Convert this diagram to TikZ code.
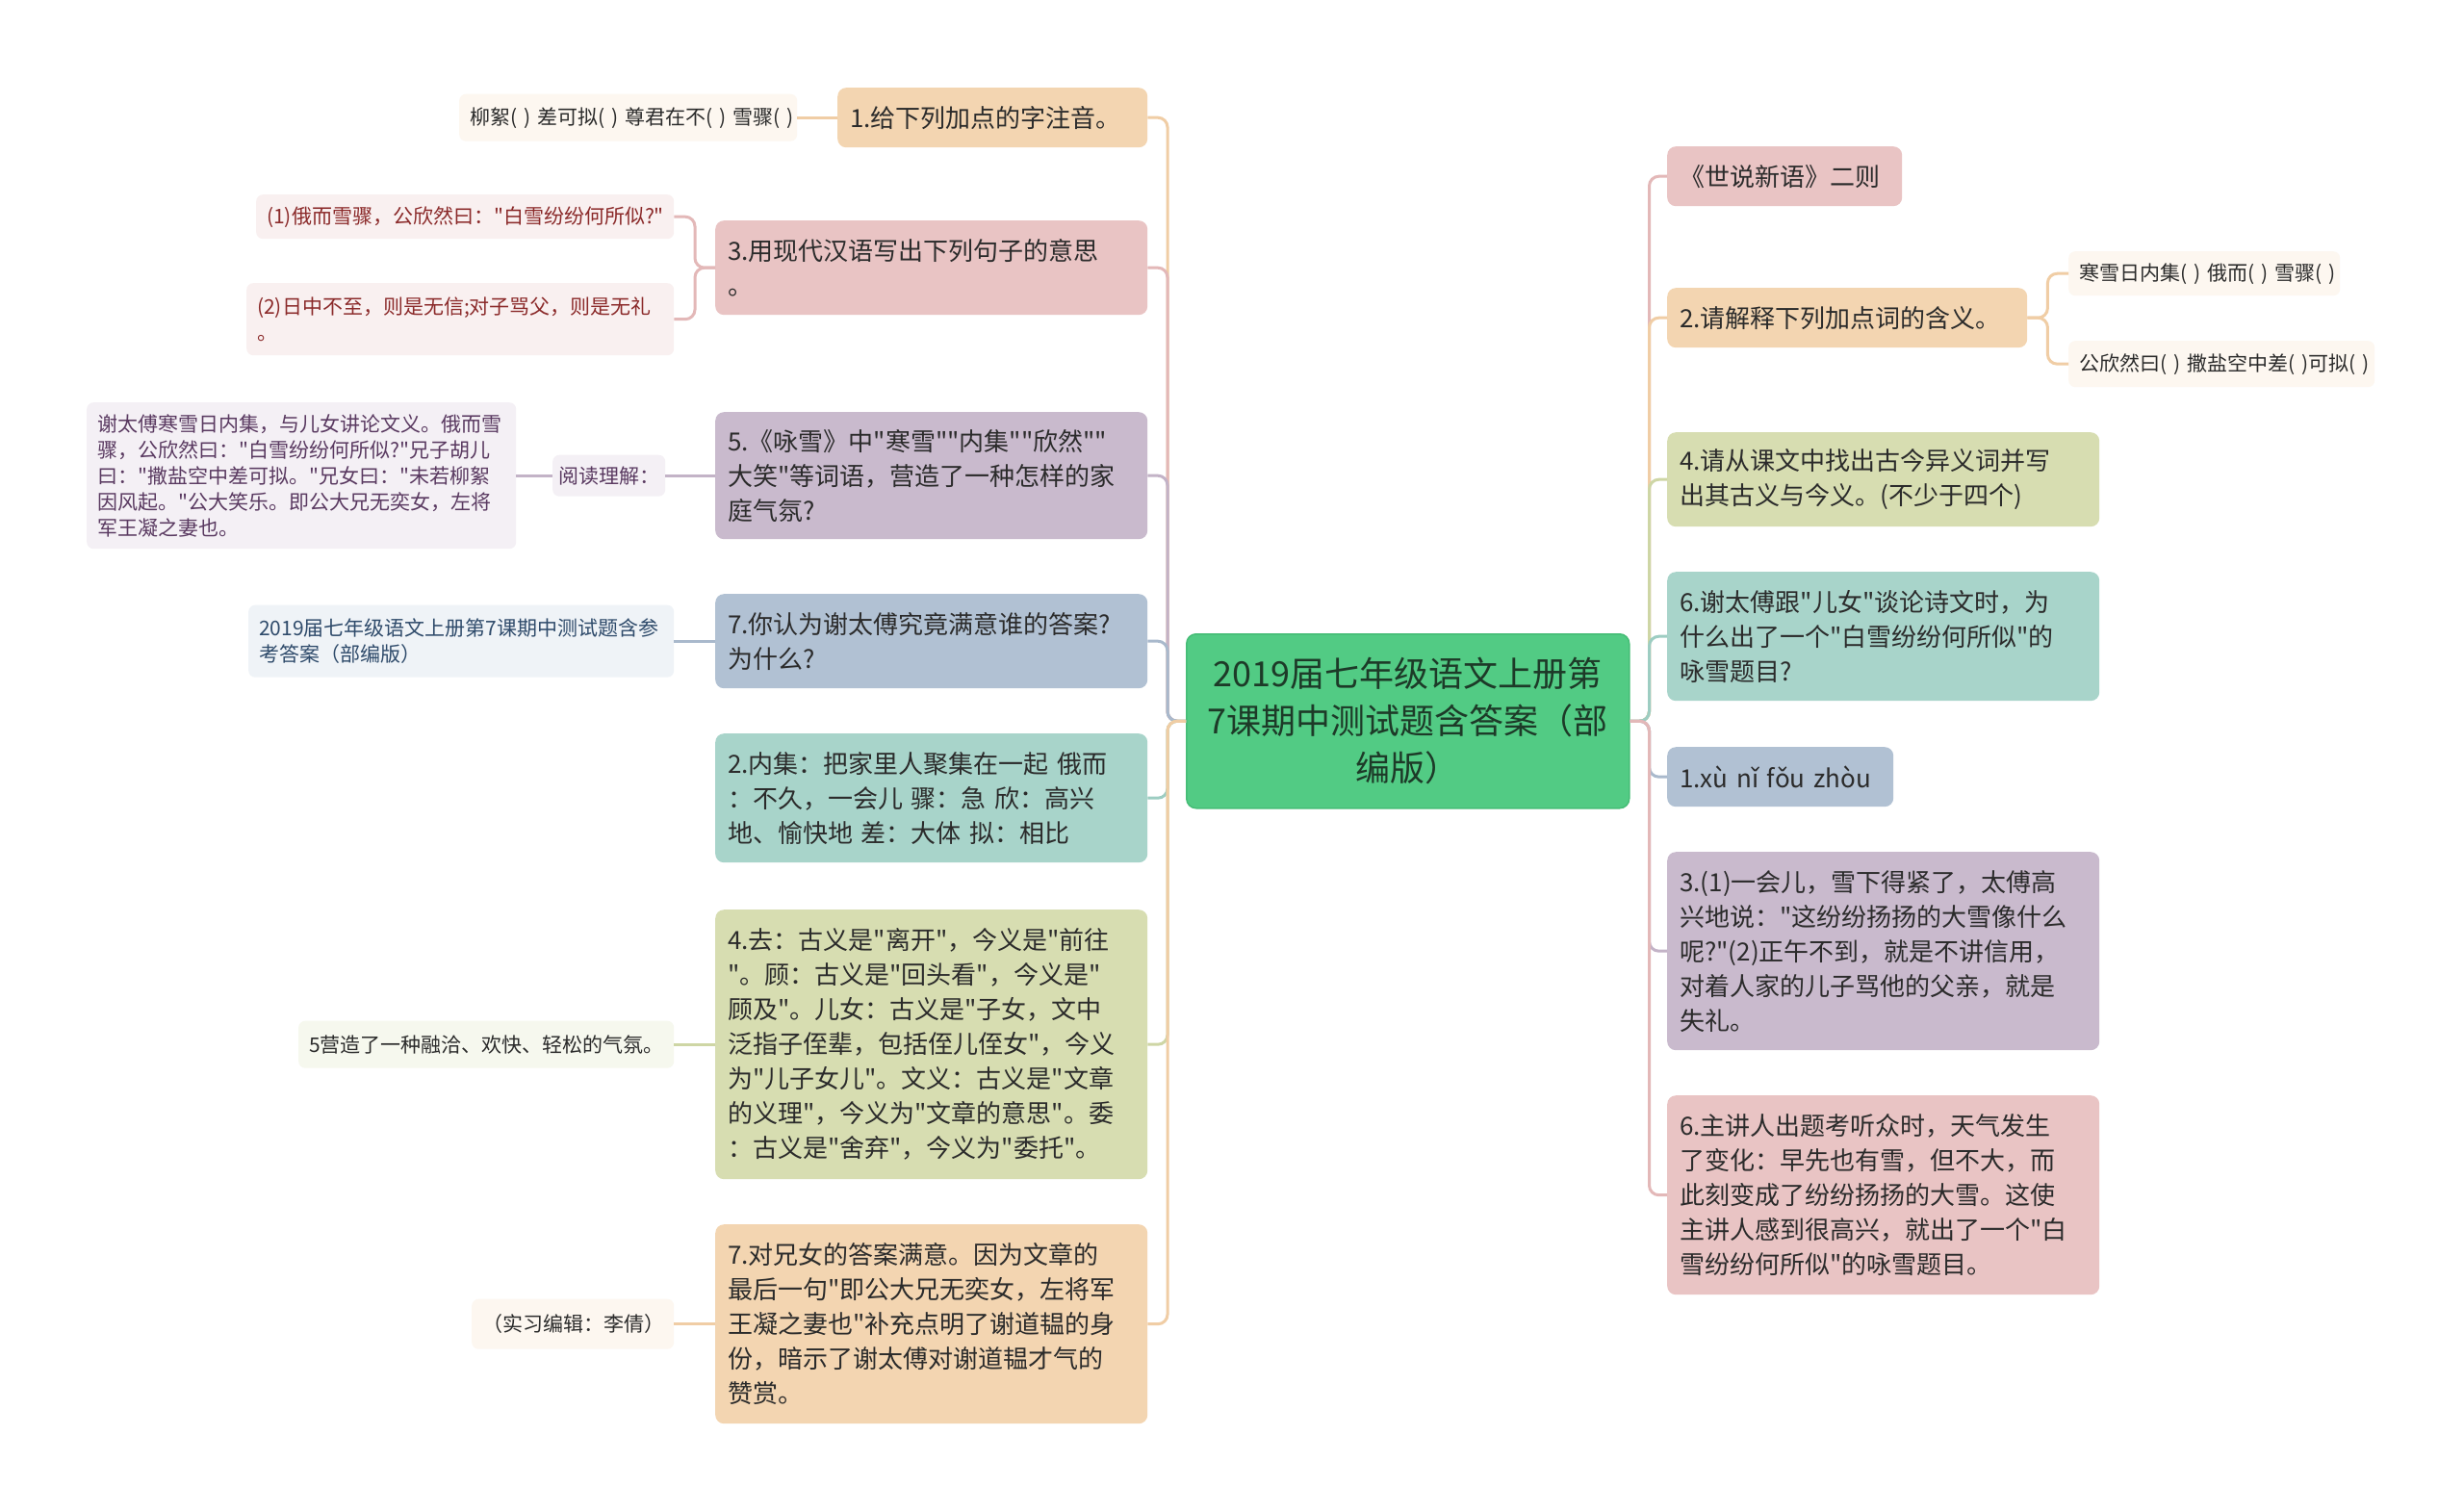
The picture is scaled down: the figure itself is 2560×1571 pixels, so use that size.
\documentclass[tikz,border=0pt]{standalone}
\usepackage{fontspec}
\setmainfont{Noto Sans CJK SC}[Ligatures=TeXOff]
\definecolor{cPeach}{HTML}{F3D5B1}
\definecolor{cPink}{HTML}{E9C4C4}
\definecolor{cLav}{HTML}{C9BACD}
\definecolor{cBlue}{HTML}{B1C1D3}
\definecolor{cTeal}{HTML}{A8D4CA}
\definecolor{cOlive}{HTML}{D7DDB1}
\definecolor{cGreen}{HTML}{52CB84}
\definecolor{cGreenLine}{HTML}{45BD76}
\definecolor{lPeach}{HTML}{F0CDA5}
\definecolor{lPink}{HTML}{E3B8B8}
\definecolor{lLav}{HTML}{C3B3C7}
\definecolor{lBlue}{HTML}{A9B9CC}
\definecolor{lTeal}{HTML}{9DCDC2}
\definecolor{lOlive}{HTML}{CED6A5}
\definecolor{fPeach}{HTML}{FDF7F0}
\definecolor{fPink}{HTML}{F9F0F0}
\definecolor{fLav}{HTML}{F4F0F5}
\definecolor{fBlue}{HTML}{EFF3F7}
\definecolor{fOlive}{HTML}{F6F8EE}
\definecolor{tRed}{HTML}{8B2A2A}
\definecolor{tLav}{HTML}{5A3A61}
\definecolor{tBlue}{HTML}{2F4B6B}
\definecolor{tDark}{HTML}{2B2B2B}
\definecolor{tCenter}{HTML}{1D3A28}
\hfuzz=50pt
\hbadness=10000
\tikzset{
  mainbox/.style={rounded corners=9pt, inner xsep=13pt, inner ysep=0pt, anchor=north west,
    align=left, font=\fontsize{26}{36}\selectfont, text=tDark},
  mb/.style n args={2}{mainbox, text width=#1, minimum height=#2},
  leafbox/.style={rounded corners=7pt, inner xsep=11pt, inner ysep=0pt, anchor=north west,
    align=left, font=\fontsize{21}{27}\selectfont, text=tDark},
  lb/.style n args={2}{leafbox, text width=#1, minimum height=#2},
  centerbox/.style={rounded corners=10pt, inner xsep=10pt, inner ysep=0pt, anchor=north west,
    align=center, font=\fontsize{36}{49}\selectfont, text=tCenter, fill=cGreen,
    draw=cGreenLine, line width=1.5pt, text width=440pt, minimum height=181pt},
  link/.style={line width=3pt, rounded corners=10pt},
}
\begin{document}
\begin{tikzpicture}[x=1pt,y=-1pt]
\fill[white] (0,0) rectangle (2560,1571);
\useasboundingbox (0,0) rectangle (2560,1571);

% center
\node[centerbox] (C) at (1232,658) {2019届七年级语文上册第\\7课期中测试题含答案（部\\编版）};

% left main nodes
\node[mb={296pt}{62pt}, fill=cPeach] (N1) at (870,91) {1.给下列加点的字注音。};
\node[mb={423pt}{98pt}, fill=cPink] (N3) at (743,229) {3.用现代汉语写出下列句子的意思\\。};
\node[mb={423pt}{132pt}, fill=cLav] (N5) at (743,428) {5.《咏雪》中"寒雪""内集""欣然""\\大笑"等词语，营造了一种怎样的家\\庭气氛?};
\node[mb={423pt}{98pt}, fill=cBlue] (N7q) at (743,617) {7.你认为谢太傅究竟满意谁的答案?\\为什么?};
\node[mb={423pt}{134pt}, fill=cTeal] (N2a) at (743,762) {2.内集：把家里人聚集在一起~俄而\\：不久，一会儿~骤：急~欣：高兴\\地、愉快地~差：大体~拟：相比};
\node[mb={423pt}{280pt}, fill=cOlive] (N4a) at (743,945) {4.去：古义是"离开"，今义是"前往\\"。顾：古义是"回头看"，今义是"\\顾及"。儿女：古义是"子女，文中\\泛指子侄辈，包括侄儿侄女"，今义\\为"儿子女儿"。文义：古义是"文章\\的义理"，今义为"文章的意思"。委\\：古义是"舍弃"，今义为"委托"。};
\node[mb={423pt}{207pt}, fill=cPeach] (N7a) at (743,1272) {7.对兄女的答案满意。因为文章的\\最后一句"即公大兄无奕女，左将军\\王凝之妻也"补充点明了谢道韫的身\\份，暗示了谢太傅对谢道韫才气的\\赞赏。};

% left leaves
\node[lb={329pt}{49pt}, fill=fPeach] (L1) at (477,97.5) {柳絮(~)~差可拟(~)~尊君在不(~)~雪骤(~)};
\node[lb={412pt}{46pt}, fill=fPink, text=tRed] (L3a) at (266,202) {(1)俄而雪骤，公欣然曰："白雪纷纷何所似?"};
\node[lb={422pt}{75pt}, fill=fPink, text=tRed] (L3b) at (256,294) {(2)日中不至，则是无信;对子骂父，则是无礼\\。};
\node[lb={105pt}{43pt}, fill=fLav, text=tLav, inner xsep=6pt] (L5a) at (574,472.5) {阅读理解：};
\node[lb={424pt}{152pt}, fill=fLav, text=tLav] (L5b) at (90,418) {谢太傅寒雪日内集，与儿女讲论文义。俄而雪\\骤，公欣然曰："白雪纷纷何所似?"兄子胡儿\\曰："撒盐空中差可拟。"兄女曰："未若柳絮\\因风起。"公大笑乐。即公大兄无奕女，左将\\军王凝之妻也。};
\node[lb={420pt}{75pt}, fill=fBlue, text=tBlue] (L7q) at (258,628.5) {2019届七年级语文上册第7课期中测试题含参\\考答案（部编版）};
\node[lb={368pt}{49pt}, fill=fOlive] (L4a) at (310,1060.5) {5营造了一种融洽、欢快、轻松的气氛。};
\node[lb={188pt}{52pt}, fill=fPeach] (L7a) at (490,1349.5) {（实习编辑：李倩）};

% right main nodes
\node[mb={218pt}{62pt}, fill=cPink] (R1) at (1732,152) {《世说新语》二则};
\node[mb={348pt}{62pt}, fill=cPeach] (R2) at (1732,299) {2.请解释下列加点词的含义。};
\node[mb={423pt}{98pt}, fill=cOlive] (R4) at (1732,449) {4.请从课文中找出古今异义词并写\\出其古义与今义。(不少于四个)};
\node[mb={423pt}{134pt}, fill=cTeal] (R6) at (1732,594) {6.谢太傅跟"儿女"谈论诗文时，为\\什么出了一个"白雪纷纷何所似"的\\咏雪题目?};
\node[mb={209pt}{62pt}, fill=cBlue] (R1a) at (1732,776) {1.xù~nǐ~fǒu~zhòu};
\node[mb={423pt}{206pt}, fill=cLav] (R3) at (1732,885) {3.(1)一会儿，雪下得紧了，太傅高\\兴地说："这纷纷扬扬的大雪像什么\\呢?"(2)正午不到，就是不讲信用，\\对着人家的儿子骂他的父亲，就是\\失礼。};
\node[mb={423pt}{207pt}, fill=cPink] (R6a) at (1732,1138) {6.主讲人出题考听众时，天气发生\\了变化：早先也有雪，但不大，而\\此刻变成了纷纷扬扬的大雪。这使\\主讲人感到很高兴，就出了一个"白\\雪纷纷何所似"的咏雪题目。};

% right leaves
\node[lb={260pt}{46pt}, fill=fPeach] (R2a) at (2149,261) {寒雪日内集(~)~俄而(~)~雪骤(~)};
\node[lb={296pt}{48pt}, fill=fPeach] (R2b) at (2149,354) {公欣然曰(~)~撒盐空中差(~)可拟(~)};

% left branches
\draw[link, lPeach] (C.west) -- ++(-19,0) |- (N1.east);
\draw[link, lPink] (C.west) -- ++(-19,0) |- (N3.east);
\draw[link, lLav] (C.west) -- ++(-19,0) |- (N5.east);
\draw[link, lBlue] (C.west) -- ++(-19,0) |- (N7q.east);
\draw[link, lTeal] (C.west) -- ++(-19,0) |- (N2a.east);
\draw[link, lOlive] (C.west) -- ++(-19,0) |- (N4a.east);
\draw[link, lPeach] (C.west) -- ++(-19,0) |- (N7a.east);

% right branches
\draw[link, lPink] (C.east) -- ++(20,0) |- (R1.west);
\draw[link, lPeach] (C.east) -- ++(20,0) |- (R2.west);
\draw[link, lOlive] (C.east) -- ++(20,0) |- (R4.west);
\draw[link, lTeal] (C.east) -- ++(20,0) |- (R6.west);
\draw[link, lBlue] (C.east) -- ++(20,0) |- (R1a.west);
\draw[link, lLav] (C.east) -- ++(20,0) |- (R3.west);
\draw[link, lPink] (C.east) -- ++(20,0) |- (R6a.west);

% leaf links
\draw[link, lPeach] (N1.west) -- (L1.east);
\draw[link, lPink] (N3.west) -- ++(-21,0) |- (L3a.east);
\draw[link, lPink] (N3.west) -- ++(-21,0) |- (L3b.east);
\draw[link, lLav] (N5.west) -- (L5a.east);
\draw[link, lLav] (L5a.west) -- (L5b.east);
\draw[link, lBlue] (N7q.west) -- (L7q.east);
\draw[link, lOlive] (N4a.west) -- (L4a.east);
\draw[link, lPeach] (N7a.west) -- (L7a.east);
\draw[link, lPeach] (R2.east) -- ++(21,0) |- (R2a.west);
\draw[link, lPeach] (R2.east) -- ++(21,0) |- (R2b.west);
\end{tikzpicture}
\end{document}
